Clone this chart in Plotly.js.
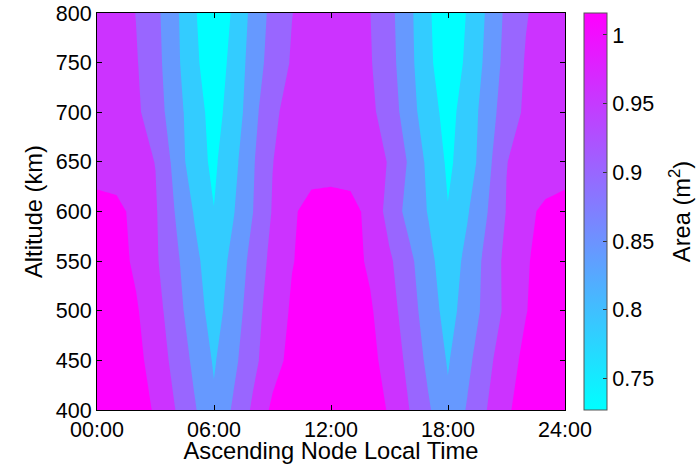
<!DOCTYPE html>
<html>
<head>
<meta charset="utf-8">
<script src="https://cdn.plot.ly/plotly-3.0.1.min.js"></script>
<style>html,body{margin:0;padding:0;background:#fff;}#chart{width:699px;height:464px;}</style>
</head>
<body>
<div id="chart"></div>
<script>
// Ascending node local time (hours) and altitude (km) grid
const hours = [0,1,2,3,4,5,6,7,8,9,10,11,12,13,14,15,16,17,18,19,20,21,22,23,24];
const altitudes = [400,450,500,550,600,650,700,750,800];

// Area (m^2) per altitude row
const area400 = [1.010,1.000,0.979,0.943,0.901,0.855,0.808,0.857,0.908,0.960,0.985,1.005,1.016,1.005,0.980,0.944,0.901,0.856,0.809,0.855,0.9002,0.941,0.977,0.998,1.010];
const area450 = [1.000,0.990,0.965,0.929,0.886,0.839,0.795,0.838,0.887,0.930,0.965,0.988,1.002,0.990,0.965,0.930,0.888,0.838,0.796,0.838,0.887,0.928,0.963,0.988,1.000];
const area500 = [0.988,0.978,0.9555,0.919,0.8725,0.822,0.781,0.822,0.880,0.922,0.956,0.978,0.990,0.982,0.956,0.920,0.874,0.824,0.782,0.821,0.8665,0.911,0.948,0.975,0.988];
const area550 = [0.975,0.967,0.942,0.907,0.862,0.813,0.770,0.814,0.867,0.914,0.948,0.965,0.975,0.966,0.943,0.908,0.863,0.814,0.771,0.814,0.865,0.913,0.946,0.966,0.975];
const area600 = [0.962,0.960,0.940,0.905,0.849,0.796,0.751,0.797,0.8495,0.903,0.945,0.962,0.963,0.962,0.940,0.880,0.834,0.797,0.752,0.796,0.848,0.902,0.942,0.957,0.962];
const area650 = [0.935,0.930,0.915,0.899,0.836,0.768,0.742,0.785,0.845,0.899,0.920,0.935,0.937,0.933,0.918,0.897,0.844,0.788,0.742,0.772,0.834,0.899,0.915,0.929,0.935];
const area700 = [0.940,0.932,0.910,0.872,0.826,0.768,0.735,0.768,0.834,0.890,0.918,0.938,0.937,0.930,0.912,0.874,0.8265,0.765,0.738,0.766,0.828,0.873,0.909,0.932,0.940];
const area750 = [0.935,0.928,0.904,0.867,0.816,0.755,0.735,0.758,0.827,0.868,0.905,0.925,0.935,0.927,0.904,0.867,0.817,0.754,0.737,0.754,0.814,0.866,0.904,0.927,0.935];
const area800 = [0.928,0.922,0.899,0.863,0.812,0.753,0.727,0.754,0.816,0.864,0.899,0.920,0.930,0.925,0.901,0.864,0.813,0.754,0.728,0.752,0.806,0.861,0.897,0.918,0.928];

// Contour levels and tick labels
const levelStart = 0.75, levelEnd = 0.95, levelStep = 0.05;
const xTickVals = [0,6,12,18,24];
const xTickText = ['00:00','06:00','12:00','18:00','24:00'];
const yTickVals = [400,450,500,550,600,650,700,750,800];
const cbTickVals = [0.75,0.8,0.85,0.9,0.95,1];
const cbTickText = ['0.75','0.8','0.85','0.9','0.95','1'];

const zGrid = [area400,area450,area500,area550,area600,area650,area700,area750,area800];
const cool = [[0,'#00ffff'],[1,'#ff00ff']];
const FONT = 'Liberation Sans, Arial, Helvetica, sans-serif';

const traces = [
  { // continuous colour bar, hidden beneath the filled contours
    type: 'heatmap', x: hours, y: altitudes, z: zGrid,
    colorscale: cool, showscale: true, hoverinfo: 'skip',
    colorbar: {
      x: 1.0406, xanchor: 'left', y: 0.5, yanchor: 'middle',
      len: 1, lenmode: 'fraction', thickness: 23, thicknessmode: 'pixels',
      xpad: 0, ypad: 0, outlinewidth: 1, outlinecolor: '#555',
      tickmode: 'array', tickvals: cbTickVals, ticktext: cbTickText,
      ticks: 'inside', ticklen: 4, tickcolor: '#333',
      tickfont: {family: FONT, size: 21.5, color: '#000'}
    }
  },
  {
    type: 'contour', x: hours, y: altitudes, z: zGrid,
    colorscale: cool, showscale: false, autocontour: false,
    contours: {start: levelStart, end: levelEnd, size: levelStep, coloring: 'fill', showlines: false},
    line: {width: 0, smoothing: 0}, hoverinfo: 'skip'
  }
];

const layout = {
  width: 699, height: 464,
  margin: {l: 97, r: 134, t: 13, b: 54, pad: 0},
  paper_bgcolor: '#fff', plot_bgcolor: '#fff',
  font: {family: FONT, size: 21.5, color: '#000'},
  showlegend: false,
  xaxis: {
    range: [0, 24], tickmode: 'array', tickvals: xTickVals, ticktext: xTickText,
    ticks: 'inside', ticklen: 5, tickcolor: '#000', showline: true, linecolor: '#000', linewidth: 1,
    mirror: 'ticks', showgrid: false, zeroline: false,
    tickfont: {family: FONT, size: 21.5, color: '#000'},
    title: {text: 'Ascending Node Local Time', font: {family: FONT, size: 23.7, color: '#000'}, standoff: 3}
  },
  yaxis: {
    range: [400, 800], tickmode: 'array', tickvals: yTickVals,
    ticks: 'inside', ticklen: 5, tickcolor: '#000', showline: true, linecolor: '#000', linewidth: 1,
    mirror: 'ticks', showgrid: false, zeroline: false,
    tickfont: {family: FONT, size: 21.5, color: '#000'},
    title: {text: 'Altitude (km)', font: {family: FONT, size: 23.7, color: '#000'}, standoff: 6}
  },
  annotations: [{
    text: 'Area (m<sup>2</sup>)', textangle: -90, showarrow: false,
    xref: 'paper', yref: 'paper', x: 1.245, y: 0.5, xanchor: 'center', yanchor: 'middle',
    font: {family: FONT, size: 23.7, color: '#000'}
  }]
};

Plotly.newPlot('chart', traces, layout, {displayModeBar: false, staticPlot: true});
</script>
</body>
</html>
